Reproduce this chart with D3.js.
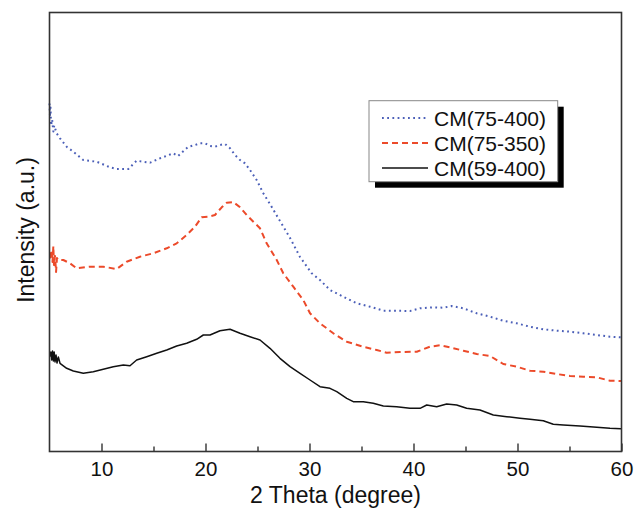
<!DOCTYPE html>
<html><head><meta charset="utf-8">
<script src="https://cdn.jsdelivr.net/npm/d3@7"></script>
<style>body{margin:0;background:#fff;}svg{display:block;}</style>
</head><body>
<script>
// Data (2θ in degrees, intensity in arbitrary units)
const thetaBlue = [5.0,5.05,5.1,5.15,5.25,5.37,5.45,5.69,6.01,6.65,7.29,8.25,9.54,10.82,11.46,12.58,13.38,14.66,15.63,16.9,17.36,18.32,18.99,19.47,19.95,20.43,20.91,21.39,21.88,22.36,22.84,23.32,23.8,24.28,24.92,25.56,26.2,27.16,28.13,29.09,30.21,31.01,31.97,33.25,34.54,35.82,37.1,38.38,39.66,40.63,41.9,42.87,43.67,44.79,46.08,47.36,48.63,49.92,51.2,52.48,53.77,55.05,56.33,57.62,58.89,59.95];
const intBlue = [348,335,344,326,332,320,326,318.2,313.2,304.8,299.8,291.5,289.8,284.2,282.5,282.5,290.8,288.8,293.2,298.2,295.5,304.5,306.5,308.2,308.2,305.5,304.8,306.5,307.5,303.2,296.5,291.5,288.2,281.5,271.5,258.2,247.5,230.5,213.5,194.5,178.2,171.5,161.5,154.8,148.2,144.8,140.8,140.8,140.5,143.2,144.2,143.8,145.5,143.2,138.2,134.8,130.8,128.2,124.8,122.2,120.8,119.8,118.2,116.5,114.8,114.2];

const thetaRed = [5.05,5.19,5.29,5.37,5.43,5.53,5.63,5.72,5.85,6.33,6.97,7.62,8.89,10.17,11.46,12.42,13.7,14.98,16.27,17.23,18.19,18.99,19.63,20.27,20.91,21.56,22.04,22.67,23.32,23.96,24.6,25.24,25.88,26.85,27.48,28.44,29.4,30.05,31.01,32.29,33.58,35.17,36.46,37.42,38.7,40.31,41.59,42.55,43.51,44.79,46.08,47.36,48.63,49.92,51.2,52.48,53.77,55.05,56.33,57.62,58.89,59.95];
const intRed = [193.2,201.5,189.5,205.5,186.5,195.5,179.5,193.5,191.5,191.5,188.2,183.2,184.8,184.8,182.5,189.8,194.8,198.2,203.2,208.2,216.5,224.8,234.2,234.8,236.5,244.2,248.8,249.5,244.2,236.5,229.8,223.2,208.2,191.5,178.2,164.8,151.5,138.2,128.2,118.2,109.8,104.8,101.5,98.8,99.5,99.8,104.8,106.2,104.2,100.8,97.5,95.5,87.5,84.8,80.8,79.8,77.5,75.5,74.8,74.2,70.8,70.5];

const thetaBlack = [5.05,5.13,5.21,5.29,5.37,5.45,5.53,5.63,5.72,5.85,6.01,6.65,7.29,8.25,9.21,10.17,11.13,12.1,12.74,13.38,14.35,15.31,16.27,17.23,18.19,19.15,19.79,20.43,21.39,22.36,23.32,24.28,25.24,26.2,27.16,28.13,29.09,30.05,31.01,31.97,32.62,33.58,34.21,35.17,36.13,37.1,38.38,39.66,40.63,41.27,42.23,43.19,44.15,45.11,46.39,47.67,48.96,50.24,51.2,52.48,53.44,54.4,56.01,57.62,58.89,59.95];
const intBlack = [94.8,99.5,91.5,100.5,90.5,99.5,89.5,96.5,88.5,94.5,88.2,83.2,80.5,78.2,79.8,82.2,84.8,86.5,85.8,91.5,94.8,98.2,101.5,105.5,108.2,112.2,116.5,116.5,120.8,122.2,118.2,114.8,111.5,103.2,93.2,84.8,78.2,71.5,64.8,63.2,59.8,53.2,49.8,49.8,48.2,45.5,44.8,43.2,43.2,46.5,44.8,47.5,46.5,43.2,41.5,36.5,34.8,33.2,32.2,30.8,27.2,26.5,25.5,24.2,23.2,22.8];

const seriesNames = ["CM(75-400)","CM(75-350)","CM(59-400)"];
const xTicksMajor = [10,20,30,40,50,60];
const xTicksMinor = [15,25,35,45,55];

const W = 634, H = 508;
const M = {left:49.5, right:621.5, top:12.5, bottom:451.5};
const svg = d3.select("body").append("svg").attr("width",W).attr("height",H);
const font = "'Liberation Sans', Arial, sans-serif";

const x = d3.scaleLinear().domain([5,60]).range([M.left, M.right]);
const y = d3.scaleLinear().domain([0,439]).range([M.bottom, M.top]);

const series = [
  {name:seriesNames[0], t:thetaBlue, v:intBlue, color:"#4b5fb8", dash:"1.8,3.4", width:2},
  {name:seriesNames[1], t:thetaRed, v:intRed, color:"#ec4a2a", dash:"6,4", width:2},
  {name:seriesNames[2], t:thetaBlack, v:intBlack, color:"#111", dash:null, width:1.5}
];

const line = d3.line().x(d=>x(d[0])).y(d=>y(d[1]));
series.forEach(s=>{
  const pts = s.t.map((t,i)=>[t,s.v[i]]);
  const p = svg.append("path").datum(pts).attr("d",line)
    .attr("fill","none").attr("stroke",s.color).attr("stroke-width",s.width)
    .attr("stroke-linejoin","round");
  if(s.dash) p.attr("stroke-dasharray",s.dash);
});

// frame
svg.append("rect").attr("x",M.left).attr("y",M.top).attr("width",M.right-M.left).attr("height",M.bottom-M.top)
  .attr("fill","none").attr("stroke","#333").attr("stroke-width",1.6);

// x axis ticks (inward)
const xAxis = d3.axisBottom(x).tickValues(xTicksMajor).tickSize(-8).tickFormat(d3.format("d")).tickPadding(10);
const gx = svg.append("g").attr("transform",`translate(0,${M.bottom})`).call(xAxis);
gx.select(".domain").remove();
gx.selectAll(".tick line").attr("stroke","#333").attr("stroke-width",1.4);
gx.selectAll(".tick text").attr("font-family",font).attr("font-size",20.5).attr("fill","#111");
const xMinor = d3.axisBottom(x).tickValues(xTicksMinor).tickSize(-5).tickFormat("");
const gm = svg.append("g").attr("transform",`translate(0,${M.bottom})`).call(xMinor);
gm.select(".domain").remove();
gm.selectAll(".tick line").attr("stroke","#333").attr("stroke-width",1.4);

// titles
svg.append("text").attr("x",(M.left+M.right)/2).attr("y",503).attr("text-anchor","middle")
  .attr("font-family",font).attr("font-size",23).attr("fill","#111").text("2 Theta (degree)");
svg.append("text").attr("transform",`translate(34,${(M.top+M.bottom)/2 - 2}) rotate(-90)`).attr("text-anchor","middle")
  .attr("font-family",font).attr("font-size",23).attr("fill","#111").text("Intensity (a.u.)");

// legend
const lg = svg.append("g");
lg.append("rect").attr("x",375).attr("y",106.7).attr("width",188.7).attr("height",81).attr("fill","#000");
lg.append("rect").attr("x",369).attr("y",100.7).attr("width",188.7).attr("height",81).attr("fill","#fff").attr("stroke","#888").attr("stroke-width",1);
series.forEach((s,i)=>{
  const yy = 118 + i*25;
  const l = lg.append("line").attr("x1",382).attr("x2",428).attr("y1",yy).attr("y2",yy)
    .attr("stroke",s.color).attr("stroke-width",s.width);
  if(s.dash) l.attr("stroke-dasharray",s.dash);
  lg.append("text").attr("x",434).attr("y",yy+7.5).attr("font-family",font).attr("font-size",21).attr("fill","#111").text(s.name);
});
</script>
</body></html>
